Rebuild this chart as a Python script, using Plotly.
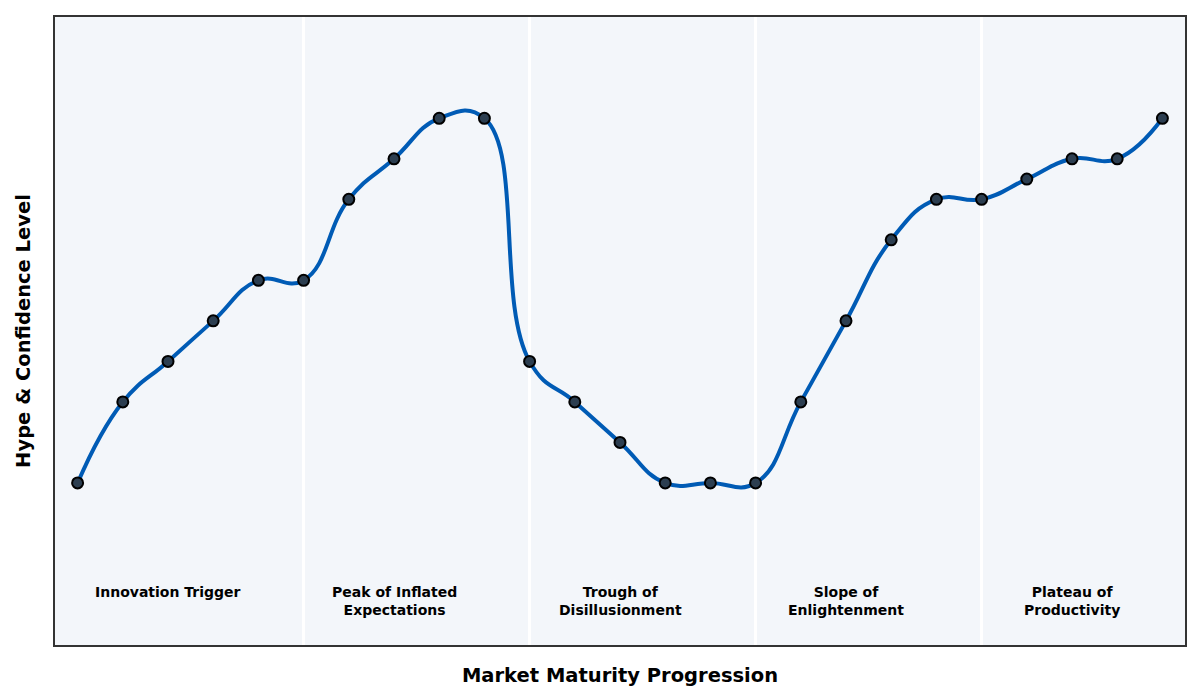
import plotly.graph_objects as go

# maturity steps and hype level
steps = list(range(25))
hype = [10, 20, 25, 30, 35, 35, 45, 50, 55, 55,
        25, 20, 15, 10, 10, 10, 20, 30, 40, 45,
        45, 47.5, 50, 50, 55]

phase_labels = [
    "Innovation Trigger",
    "Peak of Inflated<br>Expectations",
    "Trough of<br>Disillusionment",
    "Slope of<br>Enlightenment",
    "Plateau of<br>Productivity",
]
phase_centers = [2, 7, 12, 17, 22]
phase_breaks = [5, 10, 15, 20]

FONT = "DejaVu Sans"

fig = go.Figure()
fig.add_trace(
    go.Scatter(
        x=steps,
        y=hype,
        mode="lines+markers",
        line={"color": "#005bb5", "width": 4, "shape": "spline", "smoothing": 1.3},
        marker={"size": 11, "color": "#2c3e50", "line": {"color": "#000000", "width": 2}},
        showlegend=False,
        hoverinfo="x+y",
    )
)

for label, xc in zip(phase_labels, phase_centers):
    fig.add_annotation(
        x=xc,
        y=0.1,
        xref="x",
        yref="paper",
        yanchor="top",
        text=f"<b>{label}</b>",
        showarrow=False,
        font={"family": FONT, "size": 14, "color": "#000000"},
    )

# the page body has an 8px margin, so the margins are shifted to compensate
fig.update_layout(
    width=1200,
    height=700,
    paper_bgcolor="#ffffff",
    plot_bgcolor="#f3f6fa",
    margin={"l": 47, "r": 23, "t": 7, "b": 63},
    font={"family": FONT, "color": "#000000"},
    xaxis={
        "range": [-0.5, 24.5],
        "tickvals": phase_breaks,
        "showticklabels": False,
        "ticks": "",
        "showgrid": True,
        "gridcolor": "#ffffff",
        "gridwidth": 3,
        "zeroline": False,
        "showline": True,
        "mirror": True,
        "linecolor": "#333333",
        "linewidth": 2,
        "title": {"text": "<b>Market Maturity Progression</b>", "font": {"size": 19.5}, "standoff": 22},
    },
    yaxis={
        "range": [-10, 67.5],
        "showticklabels": False,
        "ticks": "",
        "showgrid": False,
        "zeroline": False,
        "showline": True,
        "mirror": True,
        "linecolor": "#333333",
        "linewidth": 2,
        "title": {"text": "<b>Hype & Confidence Level</b>", "font": {"size": 19.5}, "standoff": 17},
    },
)

fig.write_html("out.html")
